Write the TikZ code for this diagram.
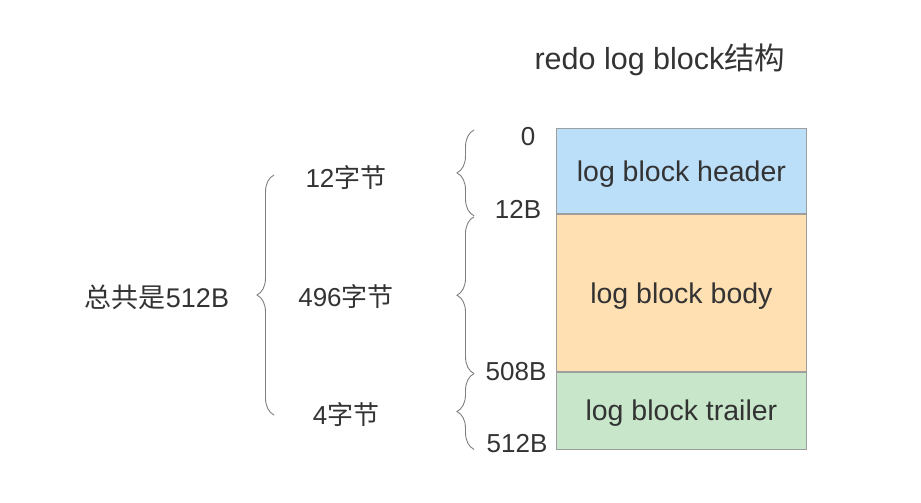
\documentclass[tikz,border=0pt]{standalone}
\usepackage{fontspec}
\usetikzlibrary{decorations.pathreplacing,positioning}
\setmainfont{Liberation Sans}
\newfontfamily\cjk{Noto Sans CJK SC}
\definecolor{ink}{HTML}{333333}
\definecolor{edge}{HTML}{9E9E9E}
\definecolor{bracegray}{HTML}{7F7F7F}
\definecolor{headfill}{HTML}{BBDEF9}
\definecolor{bodyfill}{HTML}{FFE0B3}
\definecolor{tailfill}{HTML}{C8E6C9}
\tikzset{
  field/.style={draw=edge,line width=0.8pt,minimum width=250pt,inner sep=0pt,text depth=0pt,text=ink,font=\fontsize{28.5}{34}\selectfont},
  offset/.style={text=ink,font=\fontsize{26}{31}\selectfont},
  size/.style={text=ink,font=\fontsize{26}{31}\selectfont},
  curly/.style={draw=bracegray,line width=0.9pt,decorate,decoration={brace,amplitude=17pt}}
}
\begin{document}
\begin{tikzpicture}[x=1pt,y=-1pt]
\useasboundingbox (0,0) rectangle (921,503);
\node[text=ink,font=\fontsize{30.5}{36}\selectfont] (title) at (660,60) {redo log block{\cjk 结构}};
% the three fields of one block
\node[field,fill=headfill,minimum height=85pt,anchor=north west] (head) at (556,128) {log block header};
\node[field,fill=bodyfill,minimum height=157pt,anchor=north] (body) at (head.south) {log block body};
\node[field,fill=tailfill,minimum height=77pt,anchor=north] (tail) at (body.south) {log block trailer};
% byte offsets
\node[offset] (o0) at (528,137) {0};
\node[offset] (o12) at (518,209) {12B};
\node[offset] (o508) at (516,372) {508B};
\node[offset] (o512) at (517,444) {512B};
% braces
\coordinate (b0) at ([xshift=-82pt]head.north west);
\coordinate (b1) at ([xshift=-82pt]head.south west);
\coordinate (b2) at ([xshift=-82pt]body.south west);
\coordinate (b3) at ([xshift=-82pt]tail.south west);
\draw[curly] ([yshift=-2pt]b1) -- ([yshift=-2pt]b0);
\draw[curly] ([yshift=-2pt]b2) -- ([yshift=-3pt]b1);
\draw[curly] (b3) -- ([yshift=-2pt]b2);
\node[size] (s12) at (346,178) {12{\cjk 字节}};
\node[size] (s496) at (346,297) {496{\cjk 字节}};
\node[size] (s4) at (346,415) {4{\cjk 字节}};
\coordinate (t0) at (274,175);
\coordinate (t1) at (274,415);
\draw[curly] (t1) -- (t0);
\node[size,font=\fontsize{27}{32}\selectfont] (total) at (157,297) {{\cjk 总共是}512B};
\end{tikzpicture}
\end{document}
